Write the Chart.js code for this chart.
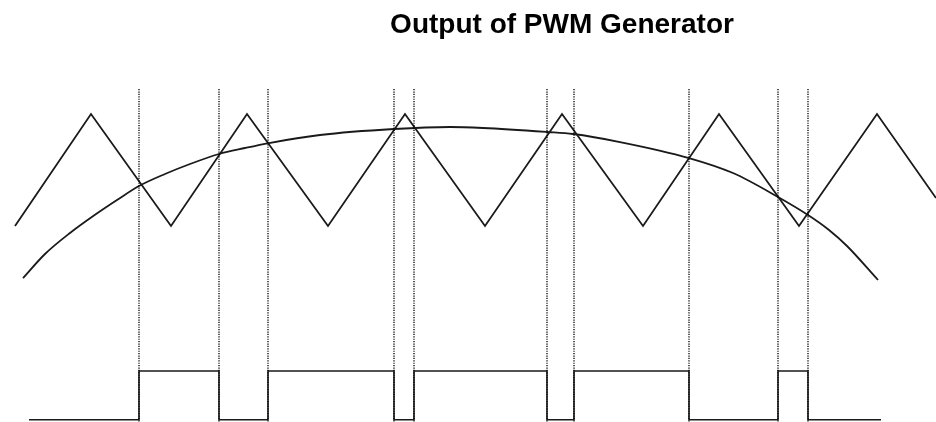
<!DOCTYPE html>
<html>
<head>
<meta charset="utf-8">
<title>Output of PWM Generator</title>
<script src="https://cdn.jsdelivr.net/npm/chart.js@4.4.1/dist/chart.umd.min.js"></script>
<style>
    html, body { margin: 0; padding: 0; background: #fff; }
    #pwmChart { display: block; }
</style>
</head>
<body>
<canvas id="pwmChart" width="936" height="422"></canvas>
<script>
const chartTitle = "Output of PWM Generator";

// carrier (triangle) wave, amplitude +/-1
const carrierX = [15, 91, 171, 247, 328, 405, 485, 562, 643, 719, 799, 877, 936];
const carrierY = [-1, 1, -1, 1, -1, 1, -1, 1, -1, 1, -1, 1, -0.5];

// reference (modulating) wave
const refX = [23, 45, 70, 95, 117, 139, 165, 190, 219, 245, 269, 320, 394, 450, 483, 547, 573, 620, 689, 733, 778, 808, 829, 847, 878];
const refY = [-1.93, -1.5, -1.125, -0.8, -0.536, -0.286, -0.071, 0.107, 0.286, 0.393, 0.482, 0.625, 0.732, 0.768, 0.75, 0.679, 0.643, 0.5, 0.214, -0.054, -0.482, -0.804, -1.071, -1.357, -1.964];

// switching instants (where carrier crosses reference)
const switchX = [139, 219, 268, 394, 414, 547, 574, 689, 778, 808];
const markerTop = 1.446;
const markerBottom = -4.5;

// PWM output: level reached at each instant
const pwmX = [29, 139, 219, 268, 394, 414, 547, 574, 689, 778, 808, 881];
const pwmState = [0, 1, 0, 1, 0, 1, 0, 1, 0, 1, 0, 0];
const pwmLow = -4.46;
const pwmHigh = -3.59;

const lineColor = "#1a1a1a";

const zip = (xs, ys) => xs.map((x, i) => ({ x: x, y: ys[i] }));

const markerSets = switchX.map(x => ({
    data: [{ x: x, y: markerTop }, { x: x, y: markerBottom }],
    borderColor: "#000",
    borderWidth: 1.3,
    borderDash: [1.2, 1.2],
    pointRadius: 0,
    fill: false
}));

const titlePlugin = {
    id: "pageTitle",
    afterDraw(chart) {
        const ctx = chart.ctx;
        ctx.save();
        ctx.font = "bold 28px 'Liberation Sans', Arial, sans-serif";
        ctx.fillStyle = "#000";
        ctx.textAlign = "center";
        ctx.textBaseline = "alphabetic";
        ctx.fillText(chartTitle, 562, 33);
        ctx.restore();
    }
};

new Chart(document.getElementById("pwmChart").getContext("2d"), {
    type: "line",
    data: {
        datasets: [
            ...markerSets,
            {
                label: "Carrier",
                data: zip(carrierX, carrierY),
                borderColor: lineColor,
                borderWidth: 1.8,
                pointRadius: 0,
                tension: 0,
                fill: false
            },
            {
                label: "Reference",
                data: zip(refX, refY),
                borderColor: lineColor,
                borderWidth: 1.8,
                pointRadius: 0,
                cubicInterpolationMode: "monotone",
                fill: false
            },
            {
                label: "PWM",
                data: zip(pwmX, pwmState.map(s => s ? pwmHigh : pwmLow)),
                borderColor: lineColor,
                borderWidth: 1.6,
                pointRadius: 0,
                stepped: "before",
                fill: false
            }
        ]
    },
    options: {
        responsive: false,
        animation: false,
        layout: { padding: 0 },
        scales: {
            x: { type: "linear", min: 0, max: 936, display: false },
            y: { type: "linear", min: -4.5, max: 3.036, display: false }
        },
        plugins: {
            legend: { display: false },
            title: { display: false },
            tooltip: { enabled: false }
        }
    },
    plugins: [titlePlugin]
});
</script>
</body>
</html>
